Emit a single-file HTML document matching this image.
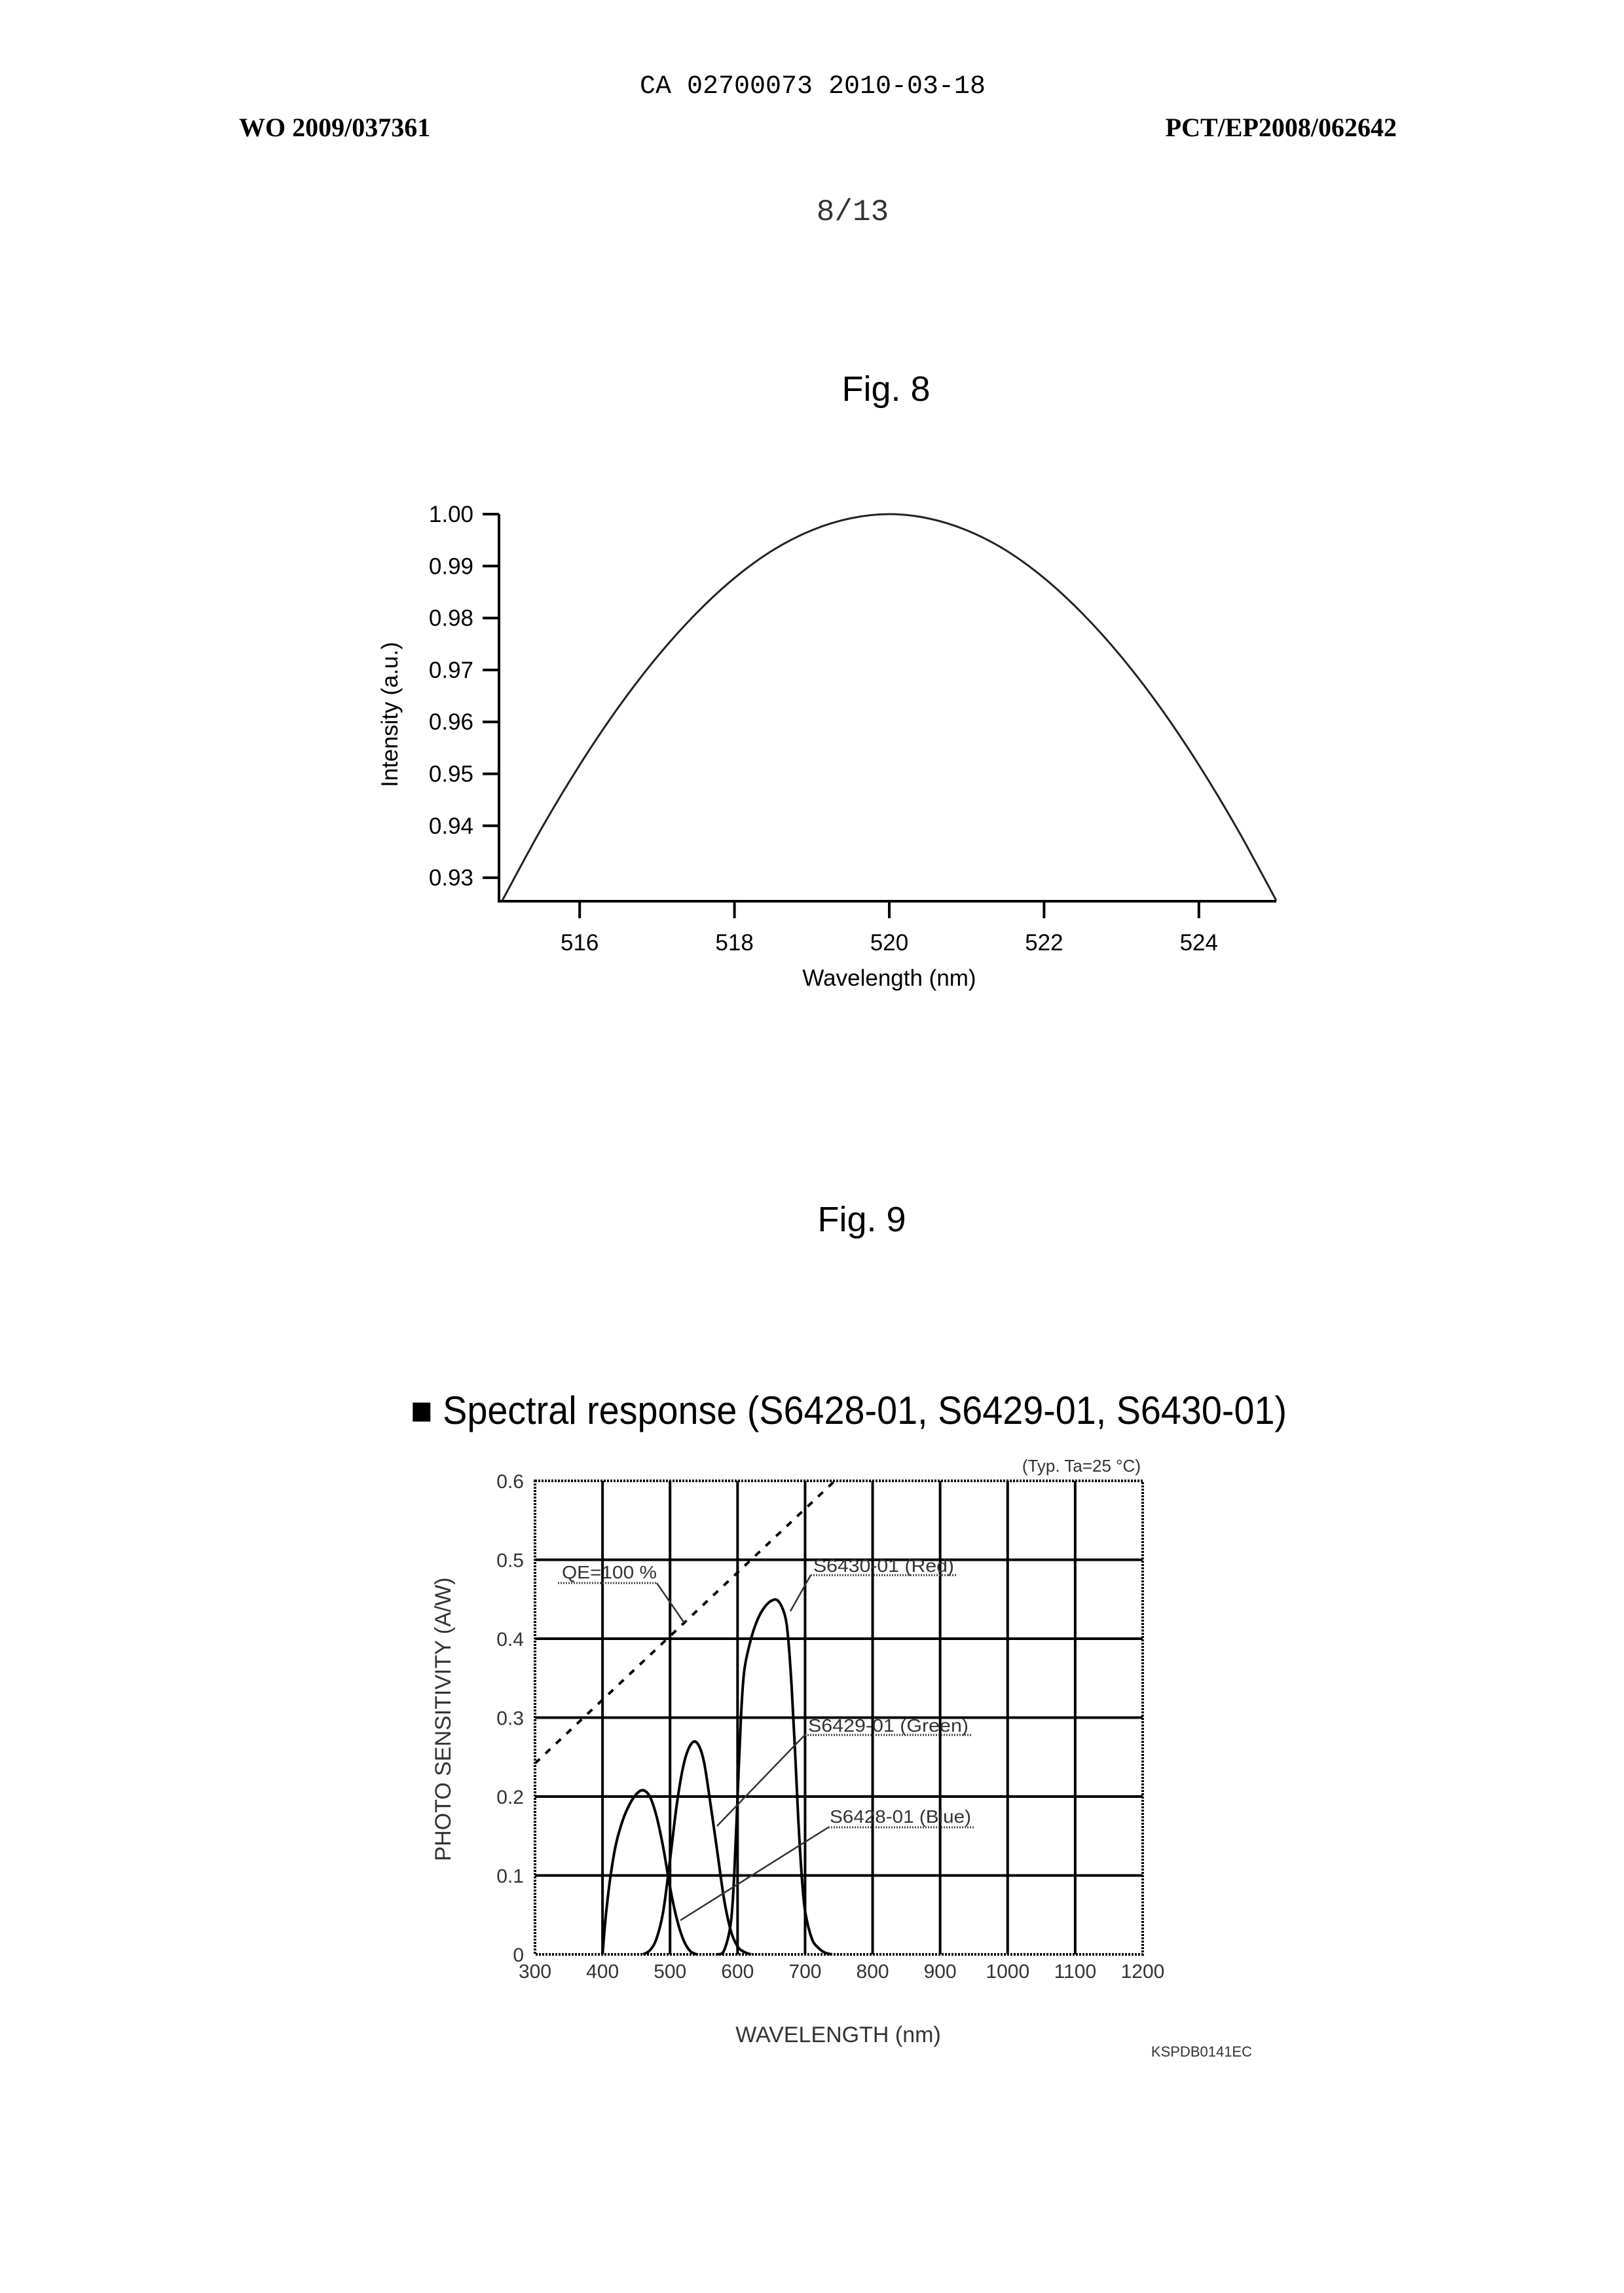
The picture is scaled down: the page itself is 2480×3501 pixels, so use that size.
<!DOCTYPE html>
<html><head><meta charset="utf-8"><style>
html,body{margin:0;padding:0;background:#fff;}
svg{display:block;}
</style></head><body>
<svg id="page" width="2480" height="3501" viewBox="0 0 2480 3501" xmlns="http://www.w3.org/2000/svg">
<rect width="2480" height="3501" fill="#fff"/>
<g font-family="Liberation Mono, monospace" fill="#000">
<text x="1241" y="142" font-size="40" text-anchor="middle">CA 02700073 2010-03-18</text>
<text x="1302" y="336" font-size="46" text-anchor="middle" fill="#333">8/13</text>
</g>
<g font-family="Liberation Serif, serif" font-weight="bold" font-size="40" fill="#000">
<text x="365" y="208">WO 2009/037361</text>
<text x="2133" y="208" text-anchor="end">PCT/EP2008/062642</text>
</g>
<g font-family="Liberation Sans, sans-serif" fill="#000">
<text x="1353" y="612" font-size="54" text-anchor="middle">Fig. 8</text>
<text x="1316" y="1880" font-size="54" text-anchor="middle">Fig. 9</text>
</g>
<g id="fig8"></g>
<g id="fig9"></g>
</svg>
<script>
// ---------- Fig 8 data ----------
const f8Wavelengths = [515,515.5,516,516.5,517,517.5,518,518.5,519,519.5,520,520.5,521,521.5,522,522.5,523,523.5,524,524.5,525];
const f8Intensity = [0.9256,0.9393,0.9517,0.9628,0.9725,0.9808,0.9877,0.9931,0.9969,0.9992,1.0000,0.9992,0.9969,0.9931,0.9877,0.9808,0.9725,0.9628,0.9517,0.9393,0.9256];
const f8XTicks = [516,518,520,522,524];
const f8YTicks = [0.93,0.94,0.95,0.96,0.97,0.98,0.99,1.00];
const f8YTickLabels = ["0.93","0.94","0.95","0.96","0.97","0.98","0.99","1.00"];

// ---------- Fig 9 data ----------
const f9XTicks = [300,400,500,600,700,800,900,1000,1100,1200];
const f9YTicks = [0,0.1,0.2,0.3,0.4,0.5,0.6];
const f9YTickLabels = ["0","0.1","0.2","0.3","0.4","0.5","0.6"];
const blueX = [400,405,412,420,430,440,450,460,470,480,490,500,510,520,530,540];
const blueY = [0,0.05,0.1,0.14,0.17,0.19,0.203,0.208,0.2,0.175,0.135,0.085,0.045,0.018,0.004,0];
const greenX = [460,470,480,490,500,510,520,530,540,550,560,570,580,590,600,610,620];
const greenY = [0,0.005,0.02,0.055,0.12,0.19,0.24,0.265,0.268,0.245,0.19,0.13,0.07,0.03,0.01,0.003,0];
const redX = [570,580,590,595,600,605,610,620,630,640,650,660,670,675,680,685,690,695,700,710,720,730,740];
const redY = [0,0.005,0.04,0.1,0.2,0.3,0.36,0.4,0.425,0.44,0.448,0.448,0.43,0.4,0.34,0.26,0.17,0.1,0.055,0.02,0.008,0.002,0];
const qeX = [300,744];
const qeY = [0.242,0.6];

const NS = "http://www.w3.org/2000/svg";
function mk(parent, tag, attrs, text){
  const e = document.createElementNS(NS, tag);
  for (const k in attrs) e.setAttribute(k, attrs[k]);
  if (text !== undefined) e.textContent = text;
  parent.appendChild(e);
  return e;
}

// ===== Fig 8 =====
(function(){
  const g = document.getElementById('fig8');
  const x = v => 767 + (v-515)*118.2;
  const y = v => 785 + (1.00 - v)*7930;
  const axisY = 1376, axisX = 762;
  let e;
  e = mk(g,'line',{x1:axisX,y1:785,x2:axisX,y2:axisY+2,stroke:'#000','stroke-width':4});
  
  
  e = mk(g,'line',{x1:axisX-2,y1:axisY,x2:1949,y2:axisY,stroke:'#000','stroke-width':4});
  
  
  f8YTicks.forEach((t,i)=>{
    const tk = mk(g,'line',{x1:737,y1:y(t),x2:axisX,y2:y(t),stroke:'#000','stroke-width':4});
    
    
    const lb = mk(g,'text',{x:723,y:y(t)+12,'font-size':35,'text-anchor':'end','font-family':'Liberation Sans, sans-serif'},f8YTickLabels[i]);
    
    
  });
  f8XTicks.forEach(t=>{
    const tk = mk(g,'line',{x1:x(t),y1:axisY,x2:x(t),y2:1402,stroke:'#000','stroke-width':4});
    
    
    const lb = mk(g,'text',{x:x(t),y:1451,'font-size':35,'text-anchor':'middle','font-family':'Liberation Sans, sans-serif'},String(t));
    
    
  });
  e = mk(g,'text',{x:1358,y:1505,'font-size':35,'text-anchor':'middle','font-family':'Liberation Sans, sans-serif'},'Wavelength (nm)');
  
  
  e = mk(g,'text',{x:0,y:0,'font-size':35,'text-anchor':'middle','font-family':'Liberation Sans, sans-serif',transform:'translate(607,1091) rotate(-90)'},'Intensity (a.u.)');
  
  
  const pts = f8Wavelengths.map((w,i)=>[x(w),y(f8Intensity[i])]);
  let d = 'M'+pts[0][0]+','+pts[0][1];
  for (let i=0;i<pts.length-1;i++){
    const p0=pts[Math.max(0,i-1)],p1=pts[i],p2=pts[i+1],p3=pts[Math.min(pts.length-1,i+2)];
    const c1x=p1[0]+(p2[0]-p0[0])/6,c1y=p1[1]+(p2[1]-p0[1])/6,c2x=p2[0]-(p3[0]-p1[0])/6,c2y=p2[1]-(p3[1]-p1[1])/6;
    d+=' C'+c1x+','+c1y+' '+c2x+','+c2y+' '+p2[0]+','+p2[1];
  }
  e = mk(g,'path',{d:d,fill:'none',stroke:'#222','stroke-width':3});
  
  
})();

// ===== Fig 9 =====
(function(){
  const g = document.getElementById('fig9');
  const x = v => 817 + (v-300)*(928/900);
  const y = v => 2984 - v*(723/0.6);
  const F = 'Liberation Sans, sans-serif';
  let e;
  e = mk(g,'text',{x:627,y:2174,'font-size':60,'font-family':F,textLength:1338,lengthAdjust:'spacingAndGlyphs'},'■ Spectral response (S6428-01, S6429-01, S6430-01)');
  
  
  e = mk(g,'text',{x:1742,y:2247,'font-size':26,'text-anchor':'end','font-family':F,fill:'#333'},'(Typ. Ta=25 °C)');
  
  
  f9XTicks.forEach(t=>{
    if (t===300||t===1200) return;
    const l = mk(g,'line',{x1:x(t),y1:y(0.6),x2:x(t),y2:y(0),stroke:'#000','stroke-width':4});
    
    
  });
  f9YTicks.forEach(t=>{
    if (t===0||t===0.6) return;
    const l = mk(g,'line',{x1:x(300),y1:y(t),x2:x(1200),y2:y(t),stroke:'#000','stroke-width':4});
    
    
  });
  e = mk(g,'rect',{x:x(300),y:y(0.6),width:x(1200)-x(300),height:y(0)-y(0.6),fill:'none',stroke:'#000','stroke-width':4,'stroke-dasharray':'3,2'});
  
  
  f9YTicks.forEach((t,i)=>{
    const lb = mk(g,'text',{x:800,y:y(t)+11,'font-size':30,'text-anchor':'end','font-family':F,fill:'#333'},f9YTickLabels[i]);
    
    
  });
  f9XTicks.forEach(t=>{
    const lb = mk(g,'text',{x:x(t),y:3020,'font-size':30,'text-anchor':'middle','font-family':F,fill:'#333'},String(t));
    
    
  });
  e = mk(g,'text',{x:1280,y:3118,'font-size':34,'text-anchor':'middle','font-family':F,fill:'#333'},'WAVELENGTH (nm)');
  
  
  e = mk(g,'text',{x:0,y:0,'font-size':34,'text-anchor':'middle','font-family':F,fill:'#333',transform:'translate(688,2625) rotate(-90)'},'PHOTO SENSITIVITY (A/W)');
  
  
  e = mk(g,'text',{x:1912,y:3140,'font-size':22,'text-anchor':'end','font-family':F,fill:'#333'},'KSPDB0141EC');
  
  

  function curve(xs, ys){
    const pts = xs.map((w,i)=>[x(w),y(ys[i])]);
    let d='M'+pts[0][0]+','+pts[0][1];
    for (let i=0;i<pts.length-1;i++){
      const p0=pts[Math.max(0,i-1)],p1=pts[i],p2=pts[i+1],p3=pts[Math.min(pts.length-1,i+2)];
      d+=' C'+(p1[0]+(p2[0]-p0[0])/6)+','+(p1[1]+(p2[1]-p0[1])/6)+' '+(p2[0]-(p3[0]-p1[0])/6)+','+(p2[1]-(p3[1]-p1[1])/6)+' '+p2[0]+','+p2[1];
    }
    return d;
  }
  e = mk(g,'path',{d:'M'+x(qeX[0])+','+y(qeY[0])+' L'+x(qeX[1])+','+y(qeY[1]),fill:'none',stroke:'#000','stroke-width':4,'stroke-dasharray':'10,12'});
  
  
  e = mk(g,'path',{d:curve(blueX,blueY),fill:'none',stroke:'#000','stroke-width':4});
  
  
  e = mk(g,'path',{d:curve(greenX,greenY),fill:'none',stroke:'#000','stroke-width':4});
  
  
  e = mk(g,'path',{d:curve(redX,redY),fill:'none',stroke:'#000','stroke-width':4});
  
  

  const ann = [
    ['qe-label','QE=100 %',858,2410,852,1003,2417,1045,2478,145],
    ['red-label','S6430-01 (Red)',1242,2400,1238,1461,2405,1207,2460,215],
    ['green-label','S6429-01 (Green)',1234,2644,1229,1483,2649,1095,2788,245],
    ['blue-label','S6428-01 (Blue)',1267,2783,1265,1488,2790,1039,2932,216]
  ];
  ann.forEach(a=>{
    const t = mk(g,'text',{x:a[2],y:a[3],'font-size':28,'font-family':F,fill:'#333',textLength:a[9],lengthAdjust:'spacingAndGlyphs'},a[1]);
    
    
    const u = mk(g,'line',{x1:a[4],y1:a[6],x2:a[5],y2:a[6],stroke:'#444','stroke-width':3,'stroke-dasharray':'2,2'});
    
    
    const lx = a[0]==='qe-label' ? a[5] : a[4];
    const ld = mk(g,'line',{x1:lx,y1:a[6],x2:a[7],y2:a[8],stroke:'#333','stroke-width':2.5});
    
    
  });
})();
</script>
</body></html>
